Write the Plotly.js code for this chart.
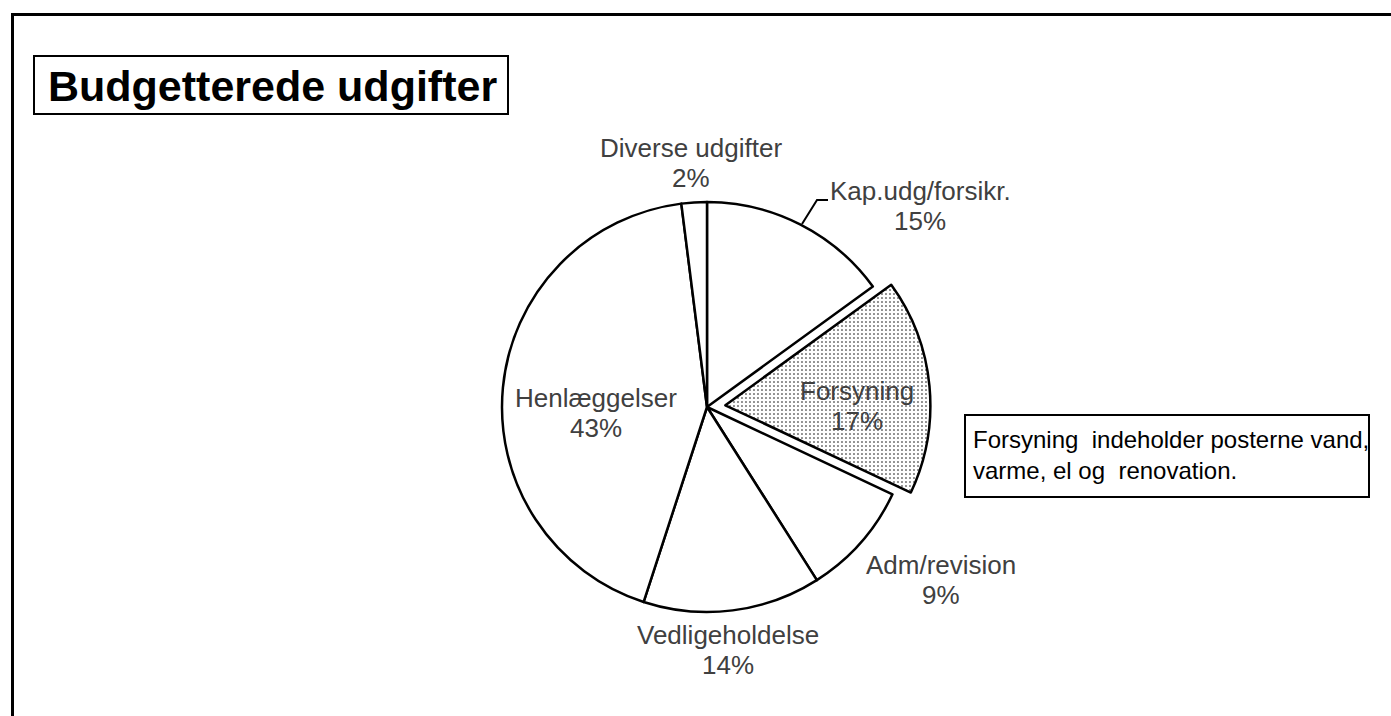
<!DOCTYPE html>
<html>
<head>
<meta charset="utf-8">
<script src="https://cdn.plot.ly/plotly-3.0.1.min.js"></script>
<style>html,body{margin:0;padding:0;background:#fff;overflow:hidden;}#chart{width:1391px;height:716px;}</style>
</head>
<body>
<div id="chart"></div>
<script>
// ---- data ----
const categories = ['Kap.udg/forsikr.', 'Forsyning', 'Adm/revision', 'Vedligeholdelse', 'Henlæggelser', 'Diverse udgifter'];
const values = [15, 17, 9, 14, 43, 2];
const pulled = [0, 0.09, 0, 0, 0, 0];
const patternShapes = ['', '.', '', '', '', ''];
const chartTitle = 'Budgetterede udgifter';
const noteText = 'Forsyning&nbsp;&nbsp;indeholder posterne vand,<br>varme, el og&nbsp;&nbsp;renovation.';

// ---- helpers ----
const W = 1391, H = 716;
const px = x => x / W;
const py = y => 1 - y / H;
const total = values.reduce((a, b) => a + b, 0);
const pct = values.map(v => Math.round(v / total * 100) + '%');

// label placement (pixel: centre x, baseline of first line)
const labelPos = [
  [920, 200], [857, 400], [941, 574], [728, 644], [596, 407], [691, 157]
];
const lineGap = 30;
const fontSize = 26;
const labelFont = {family: 'Liberation Sans, Arial, sans-serif', size: fontSize, color: '#404040'};

const annotations = [];
categories.forEach((c, i) => {
  const [cx, base] = labelPos[i];
  annotations.push({xref: 'paper', yref: 'paper', x: px(cx), y: py(base - 0.35 * fontSize),
    xanchor: 'center', yanchor: 'middle', showarrow: false, text: c, font: labelFont});
  annotations.push({xref: 'paper', yref: 'paper', x: px(cx), y: py(base + lineGap - 0.35 * fontSize),
    xanchor: 'center', yanchor: 'middle', showarrow: false, text: pct[i], font: labelFont});
});
// title
annotations.push({xref: 'paper', yref: 'paper', x: px(46), y: py(86), xanchor: 'left', yanchor: 'middle',
  showarrow: false, text: '<b>' + chartTitle + '</b>',
  font: {family: 'Liberation Sans, Arial, sans-serif', size: 43, color: '#000'}});
// note
annotations.push({xref: 'paper', yref: 'paper', x: px(971), y: py(455), xanchor: 'left', yanchor: 'middle',
  showarrow: false, align: 'left', text: noteText,
  font: {family: 'Liberation Sans, Arial, sans-serif', size: 24, color: '#000'}});

// pie geometry
const cxP = 707, cyP = 407, rP = 205;
const maxPull = Math.max(...pulled);
const half = rP * (1 + maxPull);

const trace = {
  type: 'pie',
  labels: categories,
  values: values,
  sort: false,
  direction: 'clockwise',
  rotation: 0,
  pull: pulled,
  textinfo: 'none',
  hoverinfo: 'none',
  showlegend: false,
  domain: {x: [px(cxP - half), px(cxP + half)], y: [py(cyP + half), py(cyP - half)]},
  marker: {
    colors: categories.map(() => '#ffffff'),
    line: {color: '#000', width: 2.5},
    pattern: {shape: patternShapes, fgcolor: '#000', bgcolor: '#fff', fillmode: 'replace', size: 4, solidity: 0.12}
  }
};

const shapes = [
  // outer frame: left and top edges
  {type: 'line', xref: 'paper', yref: 'paper', x0: px(12.5), x1: px(12.5), y0: 0, y1: py(13),
   line: {color: '#000', width: 3}},
  {type: 'line', xref: 'paper', yref: 'paper', x0: px(11), x1: 1, y0: py(14.5), y1: py(14.5),
   line: {color: '#000', width: 3}},
  // title box
  {type: 'rect', xref: 'paper', yref: 'paper', x0: px(34), x1: px(508), y0: py(114), y1: py(56),
   line: {color: '#000', width: 2}, fillcolor: 'rgba(0,0,0,0)'},
  // note box
  {type: 'rect', xref: 'paper', yref: 'paper', x0: px(965), x1: px(1369), y0: py(497), y1: py(415),
   line: {color: '#000', width: 2}, fillcolor: 'rgba(0,0,0,0)'},
  // leader line for Kap.udg label
  {type: 'path', xref: 'paper', yref: 'paper',
   path: `M ${px(802)} ${py(224)} L ${px(817)} ${py(200)} L ${px(828)} ${py(200)}`,
   line: {color: '#000', width: 2}}
];

Plotly.newPlot('chart', [trace], {width: W, height: H, margin: {l: 0, r: 0, t: 0, b: 0},
  paper_bgcolor: '#fff', plot_bgcolor: '#fff', showlegend: false, annotations: annotations, shapes: shapes},
  {staticPlot: true, displayModeBar: false});
</script>
</body>
</html>
